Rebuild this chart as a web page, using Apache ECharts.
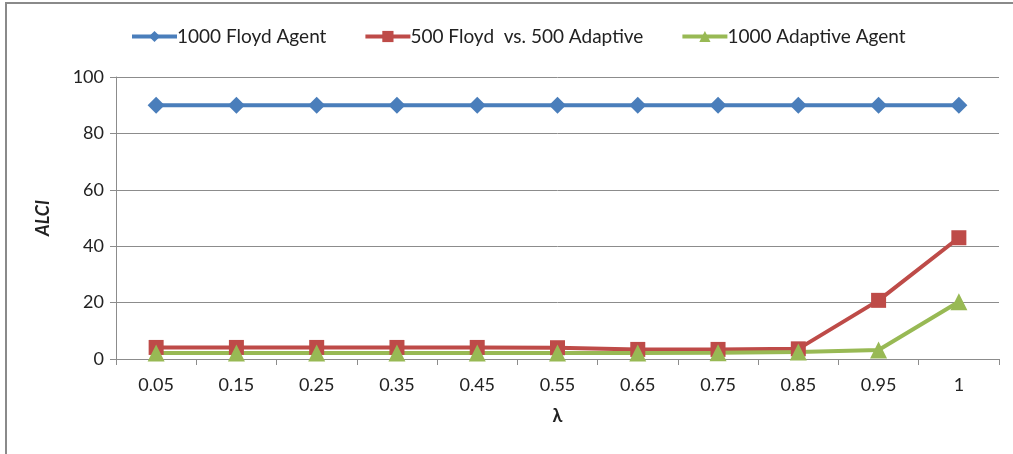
<!DOCTYPE html>
<html><head><meta charset="utf-8">
<script src="https://cdn.jsdelivr.net/npm/echarts@6/dist/echarts.min.js"></script>
<style>html,body{margin:0;padding:0;background:#fff}#c{width:1013px;height:454px}</style>
</head><body><div id="c"></div>
<script>
const categories = ['0.05','0.15','0.25','0.35','0.45','0.55','0.65','0.75','0.85','0.95','1'];
const floydAgent = [90,90,90,90,90,90,90,90,90,90,90];
const floydVsAdaptive = [4.1,4.1,4.1,4.1,4.1,4.0,3.4,3.4,3.6,20.8,43.0];
const adaptiveAgent = [2.1,2.1,2.1,2.1,2.1,2.1,2.1,2.2,2.5,3.2,20.3];
const yTicks = [0,20,40,60,80,100];
const seriesNames = ['1000 Floyd Agent','500 Floyd  vs. 500 Adaptive','1000 Adaptive Agent'];
const font = 'Lato, "Open Sans", sans-serif';
const chart = echarts.init(document.getElementById('c'));
chart.setOption({
  animation:false,
  graphic:[{type:'rect',shape:{x:6,y:3,width:1100,height:600},style:{fill:'none',stroke:'#8a8a8a',lineWidth:2},silent:true}],
  legend:{top:22,left:125,itemWidth:45,itemHeight:14,itemGap:37,
    lineStyle:{width:4},
    textStyle:{fontFamily:font,fontSize:19,color:'#222',padding:[0,0,0,-5]},
    data:seriesNames},
  grid:{left:116,right:14,top:77,bottom:95},
  xAxis:{type:'category',data:categories,boundaryGap:true,
    name:'λ',nameLocation:'middle',nameGap:48,
    nameTextStyle:{fontFamily:font,fontSize:18,fontWeight:'bold',color:'#222'},
    axisLine:{lineStyle:{color:'#8c8c8c',width:1}},
    axisTick:{show:true,length:6,interval:0,lineStyle:{color:'#8c8c8c'}},
    axisLabel:{fontFamily:font,fontSize:18,color:'#222',margin:17,interval:0}},
  yAxis:{type:'value',min:0,max:100,interval:20,
    name:'ALCI',nameLocation:'middle',nameGap:64,nameRotate:90,
    nameTextStyle:{fontFamily:font,fontSize:18,fontWeight:'bold',fontStyle:'italic',color:'#222'},
    axisLine:{show:true,lineStyle:{color:'#8c8c8c',width:1}},
    axisTick:{show:true,length:6,lineStyle:{color:'#8c8c8c'}},
    splitLine:{lineStyle:{color:'#8c8c8c',width:1}},
    axisLabel:{fontFamily:font,fontSize:18,color:'#222',margin:12,
      formatter:v=>yTicks.includes(v)?String(v):''}},
  series:[
    {name:seriesNames[0],type:'line',data:floydAgent,symbol:'diamond',symbolSize:17,
      lineStyle:{color:'#4a7ebb',width:4},itemStyle:{color:'#4a7ebb'}},
    {name:seriesNames[1],type:'line',data:floydVsAdaptive,symbol:'rect',symbolSize:15,
      lineStyle:{color:'#be4b48',width:4},itemStyle:{color:'#be4b48'}},
    {name:seriesNames[2],type:'line',data:adaptiveAgent,symbol:'triangle',symbolSize:17,
      lineStyle:{color:'#98b954',width:4},itemStyle:{color:'#98b954'}}
  ]
});
</script></body></html>
